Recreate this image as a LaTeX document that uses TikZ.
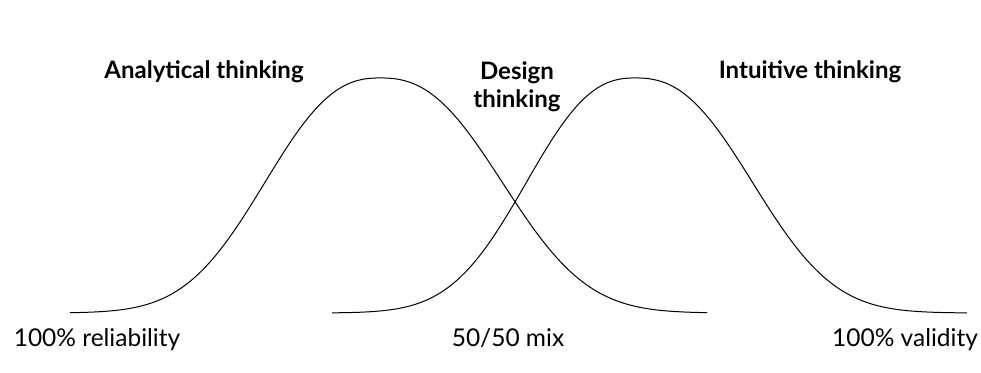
\documentclass[tikz,border=0pt]{standalone}
\usepackage{fontspec}
\setmainfont{Lato}
\begin{document}
\begin{tikzpicture}[x=1pt,y=-1pt,
  curve/.style={line width=1pt, black},
  head/.style={font=\fontsize{24}{28}\selectfont\bfseries, align=center, inner sep=0pt},
  foot/.style={font=\fontsize{24.5}{28}\selectfont, inner sep=0pt}]
\useasboundingbox[fill=white] (0,0) rectangle (981,372);
% left curve (analytical), peak at x=380
\draw[curve]
  plot[domain=70:380, samples=90] (\x, {313-235*exp(-(((380-\x)/143)+0.0001)^2.45)})
  -- plot[domain=380:707, samples=90] (\x, {313-235*exp(-(((\x-380)/152)+0.0001)^2.45)});
% right curve (intuitive), peak at x=635
\draw[curve]
  plot[domain=332:635, samples=90] (\x, {313-235*exp(-(((635-\x)/135)+0.0001)^2.45)})
  -- plot[domain=635:967, samples=90] (\x, {313-235*exp(-(((\x-635)/146)+0.0001)^2.45)});
\node[head] (an) at (204,72) {Analytical thinking};
\node[head] (de) at (517,87) {Design\\thinking};
\node[head] (in) at (810,72) {Intuitive thinking};
\node[foot] (rel) at (97,340) {100\% reliability};
\node[foot] (mix) at (508,338) {50/50 mix};
\node[foot] (val) at (905,340) {100\% validity};
\end{tikzpicture}
\end{document}
